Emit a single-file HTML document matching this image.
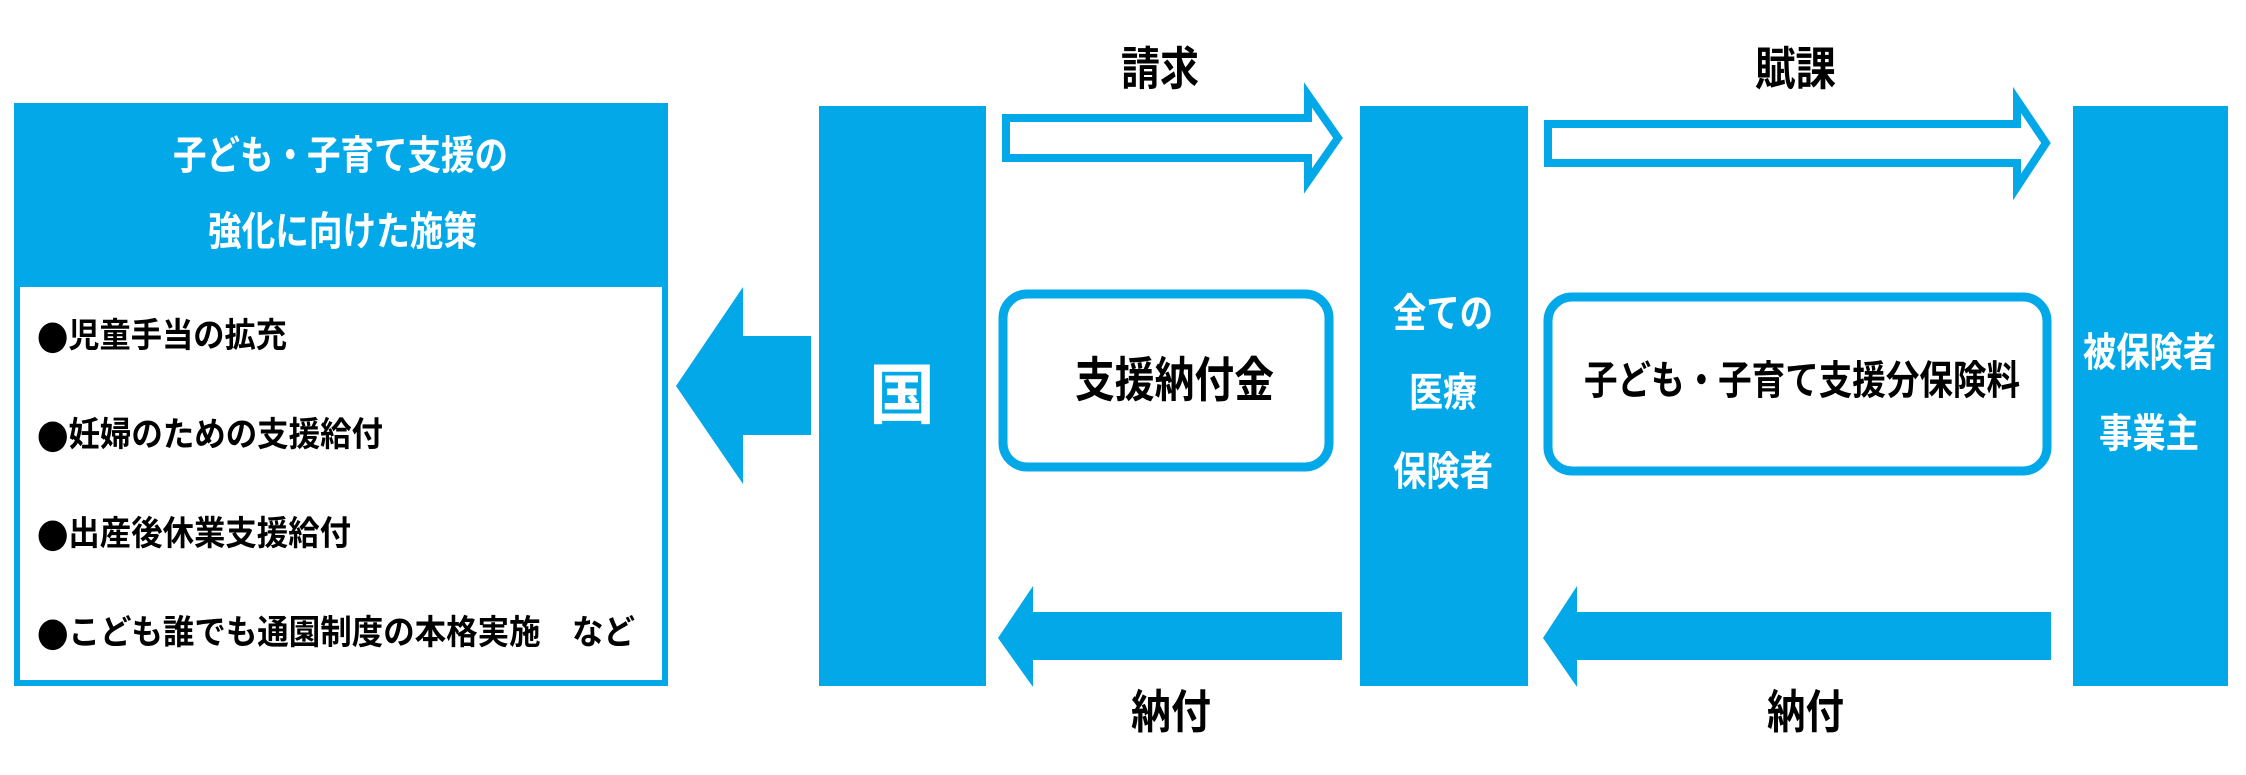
<!DOCTYPE html>
<html><head><meta charset="utf-8"><style>
html,body{margin:0;padding:0;background:#fff;width:2246px;height:775px;overflow:hidden}
svg text{font-family:"Liberation Sans","Noto Sans CJK JP",sans-serif;font-weight:bold;dominant-baseline:central}
svg tspan.b{font-family:"Noto Sans CJK JP",sans-serif}
</style></head><body>
<svg width="2246" height="775" viewBox="0 0 2246 775" xmlns="http://www.w3.org/2000/svg">
<g fill="#02a8e8">
<rect x="14" y="103" width="654" height="583"/>
<rect x="20" y="287" width="642" height="393" fill="#fff"/>
<polygon points="811,336 743,336 743,287 676,386 743,484 743,435 811,435"/>
<rect x="819" y="106" width="167" height="580"/>
<rect x="1360" y="106" width="168" height="580"/>
<rect x="2073" y="106" width="155" height="580"/>
<polygon points="1342,612 1033,612 1033,586 998,638 1033,687 1033,660 1342,660"/>
<polygon points="2051,612 1577,612 1577,586 1543,638 1577,687 1577,660 2051,660"/>
</g>
<polygon points="1006,118 1308,118 1308,95 1338,138 1308,181 1308,158 1006,158" fill="#fff" stroke="#02a8e8" stroke-width="8"/>
<polygon points="1548,124 2017,124 2017,100 2046,143 2017,187 2017,163 1548,163" fill="#fff" stroke="#02a8e8" stroke-width="8"/>
<rect x="1003" y="294" width="326" height="173" rx="24" fill="#fff" stroke="#02a8e8" stroke-width="9"/>
<rect x="1548" y="297" width="499" height="174" rx="24" fill="#fff" stroke="#02a8e8" stroke-width="9"/>
<g fill="#fff">
<text x="173" y="156" font-size="40" textLength="335" lengthAdjust="spacingAndGlyphs">子ども・子育て支援の</text>
<text x="208" y="232" font-size="40" textLength="269" lengthAdjust="spacingAndGlyphs">強化に向けた施策</text>
<text x="902" y="395" font-size="66" text-anchor="middle">国</text>
<text x="1393" y="314" font-size="40" textLength="100" lengthAdjust="spacingAndGlyphs">全ての</text>
<text x="1409" y="393" font-size="40" textLength="68" lengthAdjust="spacingAndGlyphs">医療</text>
<text x="1393" y="472" font-size="40" textLength="100" lengthAdjust="spacingAndGlyphs">保険者</text>
<text x="2083" y="353" font-size="40" textLength="133" lengthAdjust="spacingAndGlyphs">被保険者</text>
<text x="2099" y="434" font-size="40" textLength="100" lengthAdjust="spacingAndGlyphs">事業主</text>
</g>
<g fill="#000">
<text x="37" y="336" font-size="34" textLength="250" lengthAdjust="spacingAndGlyphs"><tspan class="b">●</tspan>児童手当の拡充</text>
<text x="37" y="435" font-size="34" textLength="346" lengthAdjust="spacingAndGlyphs"><tspan class="b">●</tspan>妊婦のための支援給付</text>
<text x="37" y="534" font-size="34" textLength="314" lengthAdjust="spacingAndGlyphs"><tspan class="b">●</tspan>出産後休業支援給付</text>
<text x="37" y="633" font-size="34" textLength="598" lengthAdjust="spacingAndGlyphs"><tspan class="b">●</tspan>こども誰でも通園制度の本格実施　など</text>
<text x="1121" y="69" font-size="46" textLength="78" lengthAdjust="spacingAndGlyphs">請求</text>
<text x="1755" y="69" font-size="46" textLength="81" lengthAdjust="spacingAndGlyphs">賦課</text>
<text x="1131" y="712" font-size="46" textLength="80" lengthAdjust="spacingAndGlyphs">納付</text>
<text x="1767" y="712" font-size="46" textLength="77" lengthAdjust="spacingAndGlyphs">納付</text>
<text x="1075" y="381" font-size="48" textLength="199" lengthAdjust="spacingAndGlyphs">支援納付金</text>
<text x="1584" y="381" font-size="40" textLength="436" lengthAdjust="spacingAndGlyphs">子ども・子育て支援分保険料</text>
</g>
</svg>
</body></html>
